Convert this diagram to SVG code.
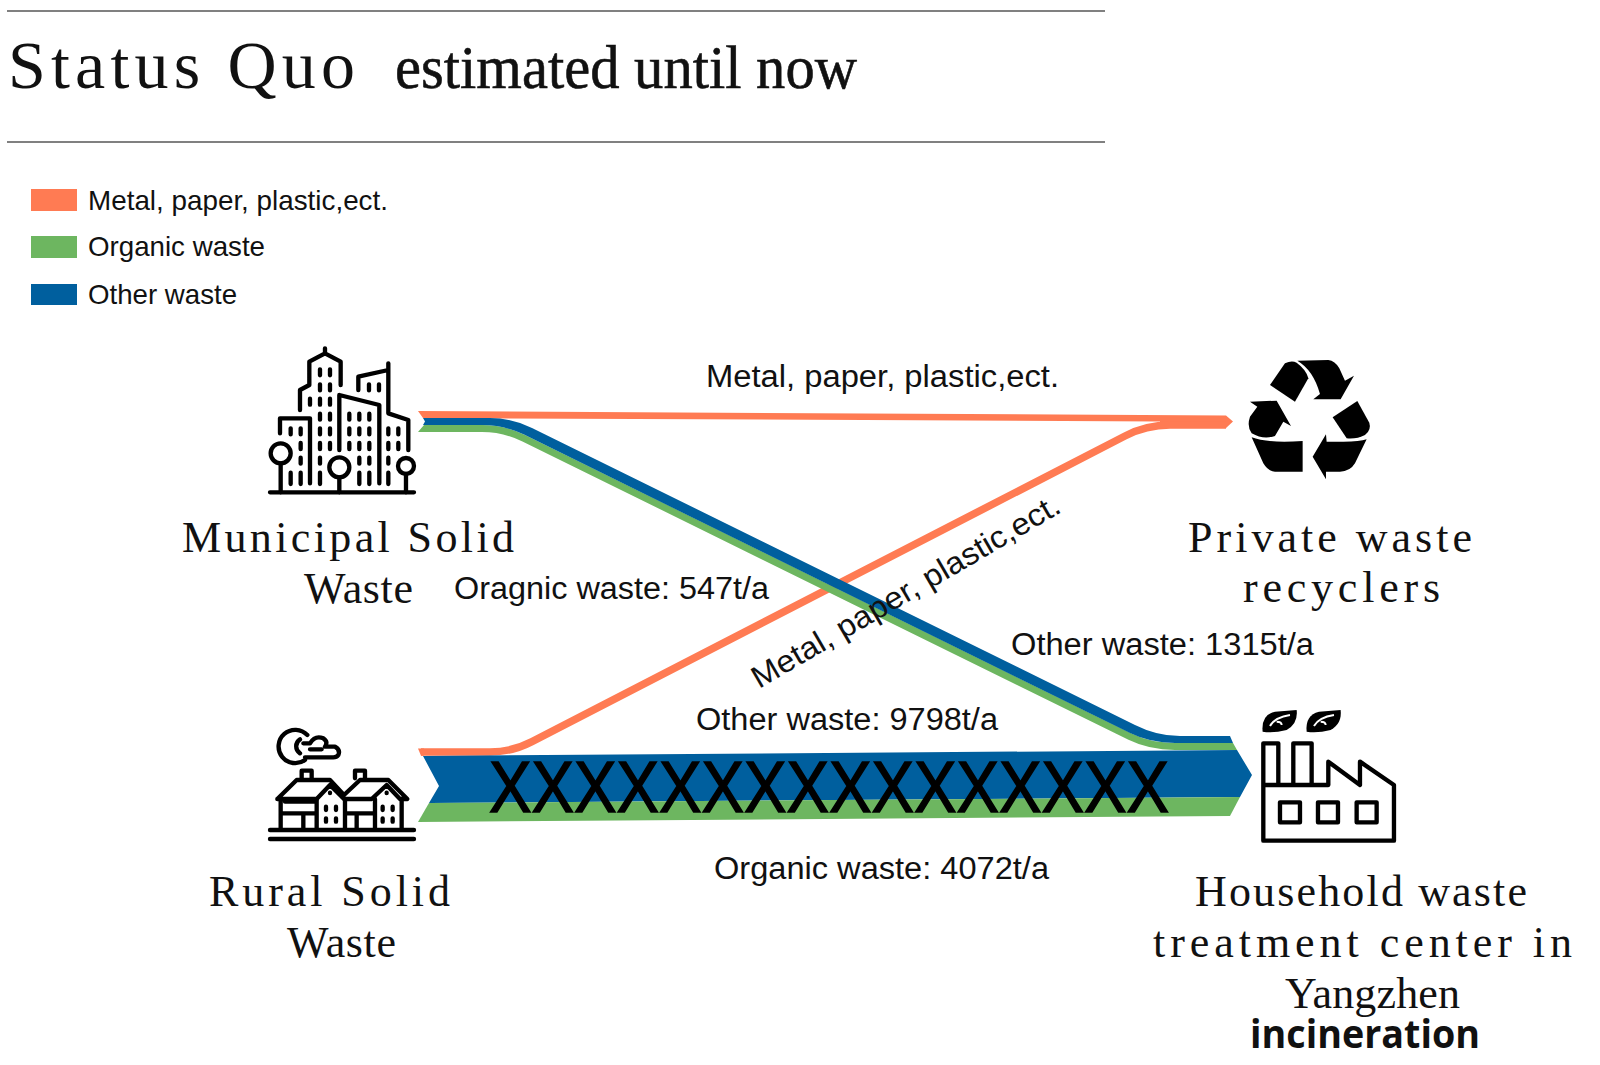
<svg xmlns="http://www.w3.org/2000/svg" width="1600" height="1065" viewBox="0 0 1600 1065">
<style>
.bg{fill:#fff}
.rule{stroke:#808080;stroke-width:2;fill:none}
.sans{font-family:"Liberation Sans",Arial,sans-serif;fill:#111;font-size:31px}
.leg{font-size:28px}
.mono{font-family:"Liberation Serif","Times New Roman",serif;fill:#111;font-size:44px}
.or{fill:#FF7B53}.gr{fill:#6DB660}.bl{fill:#005F9E}
.ors{stroke:#FF7B53;fill:none;stroke-width:7.5}
.grs{stroke:#6DB660;fill:none;stroke-width:7}
.ico{fill:none;stroke:#000;stroke-width:13;stroke-linecap:round;stroke-linejoin:round}
</style>
<rect class="bg" width="1600" height="1065"/>
<g id="header">
<line class="rule" x1="7" y1="11" x2="1105" y2="11"/>
<line class="rule" x1="7" y1="142" x2="1105" y2="142"/>
<text x="8" y="88" font-family="Liberation Serif,serif" font-size="68" fill="#111" textLength="347">Status Quo</text>
<text x="395" y="88" font-family="Liberation Serif,serif" font-size="61" fill="#111" stroke="#111" stroke-width="0.6" textLength="462" lengthAdjust="spacingAndGlyphs">estimated until now</text>
</g>
<g id="legend">
<rect class="or" x="31" y="189" width="46" height="22"/>
<rect class="gr" x="31" y="236" width="46" height="22"/>
<rect class="bl" x="31" y="284" width="46" height="21"/>
<text class="sans leg" x="88" y="210" textLength="300" lengthAdjust="spacingAndGlyphs">Metal, paper, plastic,ect.</text>
<text class="sans leg" x="88" y="256" textLength="177" lengthAdjust="spacingAndGlyphs">Organic waste</text>
<text class="sans leg" x="88" y="304" textLength="149" lengthAdjust="spacingAndGlyphs">Other waste</text>
</g>
<g id="connectors">
<path class="or" d="M418,411 L1226,415.5 L1233,421.5 L1226,428 L1160,428 L1160,421.5 L423,418 Z"/>
<path class="ors" d="M421,752 H490 Q512,752 532,741.6 L1125,436 Q1146,425 1170,425 H1226"/>
<path class="or" d="M418,748.5 L424,748.5 L424,755.7 L421,755.7 Z"/>
<path class="grs" d="M428,428.5 H482 Q504,428.5 524,438.3 L1130,736.7 Q1150,746.5 1175,746.5 H1232"/>
<path class="gr" d="M424,425 L430,425 L430,432 L418,432 Z M1230,743 L1233,743 L1237,750 L1230,750 Z"/>
<path class="bl" d="M423,418 H490 Q512,418 532,428 L1135,724.9 Q1157,736 1180,736 H1230 L1233,743 H1175 Q1150,743 1130,733.1 L524,434.6 Q504,425 482,425 H423 L425,421.5 Z"/>
<path class="bl" d="M423,756 L1237,750 L1252,775 L1240,797 L429,803 L439,786 Z"/>
<path class="gr" d="M429,803 L1240,797 L1230,816 L418,822 Z"/>
<text x="489" y="812" font-family="Liberation Sans,sans-serif" font-size="72" fill="#000" stroke="#000" stroke-width="1.5" textLength="680" lengthAdjust="spacingAndGlyphs">XXXXXXXXXXXXXXXX</text>
<text class="sans" x="706" y="387" textLength="353" lengthAdjust="spacingAndGlyphs">Metal, paper, plastic,ect.</text>
<text class="sans" x="454" y="599" textLength="315" lengthAdjust="spacingAndGlyphs">Oragnic waste: 547t/a</text>
<text class="sans" x="1011" y="655" textLength="303" lengthAdjust="spacingAndGlyphs">Other waste: 1315t/a</text>
<text class="sans" x="696" y="730" textLength="302" lengthAdjust="spacingAndGlyphs">Other waste: 9798t/a</text>
<text class="sans" x="714" y="879" textLength="335" lengthAdjust="spacingAndGlyphs">Organic waste: 4072t/a</text>
<text class="sans" transform="translate(759,689) rotate(-30.3)" textLength="352" lengthAdjust="spacingAndGlyphs">Metal, paper, plastic,ect.</text>
</g>
<g id="municipal">
<g transform="translate(250,330) scale(0.3333)">
<path class="ico" d="M60,487 H492 M90,310 V265 H180 V460 M150,240 V180 L178,165 V95 L225,70 L272,95 V165 M225,55 V70 M268,360 V195 L388,225 V460 M325,180 V140 L415,120 V100 M415,120 V250 L475,270 V360"/>
<circle class="ico" cx="92" cy="370" r="30"/><circle class="ico" cx="268" cy="412" r="30"/><circle class="ico" cx="468" cy="408" r="24"/>
<path class="ico" d="M92,400 V487 M268,442 V487 M468,432 V487"/>
<path class="ico" d="M210,118 v18 M240,118 v18 M210,163 v18 M240,163 v18 M180,206 v18 M210,206 v18 M240,206 v18 M210,251 v18 M240,251 v18 M210,295 v18 M240,295 v18 M210,339 v18 M240,339 v18 M210,383 v18 M210,428 v34 M357,163 v18 M387,163 v18 M298,251 v18 M328,251 v18 M358,251 v18 M298,295 v18 M328,295 v18 M358,295 v18 M298,339 v18 M328,339 v18 M358,339 v18 M328,383 v18 M358,383 v18 M328,428 v34 M358,428 v34 M122,295 v18 M152,295 v18 M152,339 v18 M152,383 v18 M122,428 v34 M152,428 v34 M415,295 v18 M445,295 v18 M415,339 v18 M445,339 v18 M415,383 v18 M415,428 v34"/>
</g>
<text class="mono" x="182" y="552" textLength="332">Municipal Solid</text>
<text class="mono" x="304" y="603" textLength="109">Waste</text>
</g>
<g id="recyclers">
<g transform="translate(1100,340) scale(0.3333)">
<path d="M510,135 L555,70 Q575,60 590,68 Q620,90 625,115 L585,185 Z"/>
<path d="M592,62 L685,60 Q705,62 718,85 L735,122 L762,107 L722,178 L640,178 L660,162 Q640,90 592,62 Z"/>
<path d="M698,232 L772,183 L808,248 Q815,270 795,285 Q770,298 740,295 Z"/>
<path d="M800,298 Q780,305 730,305 L680,305 L678,283 L638,350 L678,418 L678,395 L720,395 Q750,395 765,370 Z"/>
<path d="M455,292 Q500,310 608,303 V395 H525 Q505,395 490,370 Z"/>
<path d="M450,185 L530,182 L573,258 L550,245 L525,288 Q490,300 455,280 Q440,260 450,230 L472,200 Z"/>
</g>
<text class="mono" x="1188" y="552" textLength="284">Private waste</text>
<text class="mono" x="1243" y="602" textLength="197">recyclers</text>
</g>
<g id="rural">
<g transform="translate(250,700) scale(0.3333)">
<path class="ico" d="M172,105 A50,50 0 1 0 165,180 M150,118 A25,25 0 0 0 150,160 M160,130 H180 Q195,105 220,115 Q235,125 225,140 H255 Q272,150 265,165 Q260,172 250,172 H165 M180,148 H215"/>
<path class="ico" d="M155,235 V212 H185 V235 M315,235 V212 H345 V235 M82,297 L140,240 H240 L282,285 L330,240 H415 L472,297 H450 L410,255 L365,297 H285 M82,297 H200 L240,255 L282,297"/>
<path class="ico" d="M92,300 V385 M92,340 H200 M105,305 H200 M200,297 V385 M160,345 V385 M285,297 V385 M285,340 H375 M375,297 V385 M320,345 V385 M455,297 V385"/>
<path class="ico" d="M228,320 v10 M258,320 v10 M228,355 v10 M258,355 v10 M398,320 v10 M428,320 v10 M398,355 v10 M428,355 v10 M240,278 v1 M410,278 v1 M60,390 H492 M60,417 H492"/>
</g>
<text class="mono" x="209" y="906" textLength="241">Rural Solid</text>
<text class="mono" x="287" y="957" textLength="109">Waste</text>
</g>
<g id="treatment">
<g transform="translate(1100,680) scale(0.3333)">
<path d="M488,155 Q483,105 525,95 L590,90 Q595,130 560,150 Q520,160 488,155 Z"/>
<path d="M620,155 Q615,105 657,95 L722,90 Q727,130 692,150 Q652,160 620,155 Z"/>
<path d="M510,138 Q525,112 570,105 M530,125 Q545,125 545,135 M642,138 Q657,112 702,105 M662,125 Q677,125 677,135" fill="none" stroke="#fff" stroke-width="6"/>
<path class="ico" d="M490,315 V190 H535 V315 M580,315 V190 H635 V315 M490,315 H685 V245 L780,315 V245 L882,315 V482 H490 V315"/>
<rect class="ico" x="540" y="367" width="60" height="60"/><rect class="ico" x="654" y="367" width="60" height="60"/><rect class="ico" x="770" y="367" width="60" height="60"/>
</g>
<text class="mono" x="1195" y="906" textLength="332">Household waste</text>
<text class="mono" x="1153" y="957" textLength="419">treatment center in</text>
<text class="mono" x="1285" y="1008" textLength="175">Yangzhen</text>
<text x="1250" y="1048" font-family="Open Sans,sans-serif" font-weight="700" font-size="39" fill="#111" textLength="230" lengthAdjust="spacingAndGlyphs">incineration</text>
</g>
</svg>
